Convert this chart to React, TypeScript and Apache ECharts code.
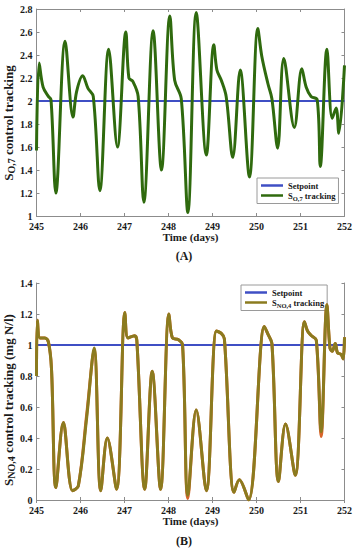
import { useEffect, useRef } from 'react';
import * as echarts from 'echarts';

// ---------- Data ----------
const xTicks = [245, 246, 247, 248, 249, 250, 251, 252];

const daysA = [
  245.0, 245.06, 245.15, 245.27, 245.33, 245.44, 245.65, 245.83, 245.91, 246.05,
  246.17, 246.29, 246.44, 246.64, 246.84, 247.03, 247.1, 247.19, 247.31, 247.44,
  247.65, 247.84, 248.03, 248.14, 248.29, 248.44, 248.63, 248.86, 249.03, 249.1,
  249.2, 249.31, 249.46, 249.63, 249.84, 250.03, 250.12, 250.26, 250.35, 250.48,
  250.62, 250.86, 251.03, 251.13, 251.24, 251.38, 251.45, 251.6, 251.72, 251.81,
  251.87, 252.0,
];
const so7Tracking = [
  1.57, 2.33, 2.12, 2.04, 2.01, 1.2, 2.52, 1.86, 2.08, 2.22,
  2.11, 2.04, 1.22, 2.45, 1.6, 2.6, 2.2, 2.17, 2.04, 1.12,
  2.61, 1.4, 2.74, 2.18, 2.02, 1.03, 2.77, 1.53, 2.49, 2.27,
  2.18, 2.04, 1.51, 2.27, 1.34, 2.63, 2.39, 2.15, 2.02, 1.59,
  2.37, 1.77, 2.28, 2.12, 2.04, 2.01, 1.43, 2.45, 1.85, 1.94,
  1.72, 2.31,
];
const so7Setpoint = 2;

const daysB = [
  245.0, 245.02, 245.08, 245.19, 245.27, 245.34, 245.44, 245.61, 245.82, 245.95,
  246.14, 246.31, 246.46, 246.61, 246.82, 247.01, 247.08, 247.23, 247.28, 247.46,
  247.63, 247.82, 248.01, 248.09, 248.22, 248.32, 248.44, 248.63, 248.86, 249.09,
  249.2, 249.27, 249.49, 249.61, 249.82, 250.18, 250.26, 250.35, 250.5, 250.66,
  250.88, 251.09, 251.16, 251.25, 251.36, 251.47, 251.6, 251.67, 251.72, 251.79,
  251.84, 251.92, 251.97, 252.0,
];
const sno4Tracking = [
  0.8, 1.16, 1.045, 1.045, 1.02, 0.85, 0.08, 0.5, 0.06, 0.09,
  0.53, 0.98, 0.06, 0.4, 0.07, 1.21, 1.045, 1.06, 1.03, 0.07,
  0.83, 0.07, 1.2, 1.045, 1.035, 1.0, 0.03, 0.58, 0.06, 1.09,
  1.075, 1.04, 0.05, 0.13, 0.0, 1.12, 1.07, 1.01, 0.12, 0.49,
  0.16, 1.15, 1.09, 1.06, 1.03, 0.44, 1.26, 0.98, 0.96, 1.01,
  0.95, 0.94, 0.91, 1.05,
];
// underlying (orange) trace, visible only where it departs from the olive one
const sno4Reference = [
  0.8, 1.16, 1.045, 1.045, 1.02, 0.85, 0.08, 0.5, 0.06, 0.09,
  0.55, 0.97, 0.06, 0.4, 0.07, 1.21, 1.045, 1.06, 1.03, 0.07,
  0.83, 0.07, 1.2, 1.045, 1.035, 1.0, 0.01, 0.58, 0.06, 1.09,
  1.075, 1.04, 0.05, 0.13, 0.0, 1.12, 1.07, 1.01, 0.12, 0.49,
  0.16, 1.15, 1.09, 1.06, 1.03, 0.41, 1.26, 0.98, 0.96, 1.01,
  0.95, 0.94, 0.91, 1.05,
];
const sno4Setpoint = 1;

const yTicksA = { min: 1, max: 2.8, interval: 0.2 };
const yTicksB = { min: 0, max: 1.4, interval: 0.2 };

// ---------- Styling ----------
const FONT = 'Liberation Serif';
const AXIS_GRAY = '#8c8c8c';
const BLUE = '#3f4fc4';
const GREEN = '#2f6a0e';
const OLIVE = '#8b7b1f';
const ORANGE = '#d8642a';

const zip = (xs: number[], ys: number[]) => xs.map((x, i) => [x, ys[i]]);

export default function App() {
  const ref = useRef<HTMLDivElement>(null);

  useEffect(() => {
    if (!ref.current) return;
    const chart = echarts.init(ref.current, undefined, { renderer: 'svg' });

    const tickLabel = {
      fontFamily: FONT,
      fontWeight: 'bold' as const,
      fontSize: 10,
      color: '#1a1a1a',
    };
    const axisLine = { show: true, lineStyle: { color: AXIS_GRAY, width: 1 } };
    const axisTick = { show: true, inside: true, length: 3, lineStyle: { color: AXIS_GRAY } };

    const grids = [
      { left: 36.5, top: 9, width: 308, height: 207 },
      { left: 36.5, top: 283, width: 308, height: 217 },
    ];

    const xCommon = {
      type: 'value' as const,
      min: xTicks[0],
      max: xTicks[xTicks.length - 1],
      interval: 1,
      splitLine: { show: false },
      axisLine,
      axisTick,
    };

    const xAxes = [0, 1].flatMap((g) => [
      {
        ...xCommon,
        gridIndex: g,
        position: 'bottom',
        axisLabel: { ...tickLabel, margin: 5 },
        name: 'Time (days)',
        nameLocation: 'middle',
        nameGap: g === 0 ? 15 : 15,
        nameTextStyle: { fontFamily: FONT, fontWeight: 'bold', fontSize: 11, color: '#1a1a1a' },
      },
      {
        ...xCommon,
        gridIndex: g,
        position: 'top',
        axisLabel: { show: false },
      },
    ]);

    const yAxes = [yTicksA, yTicksB].flatMap((t, g) => [
      {
        type: 'value' as const,
        gridIndex: g,
        position: 'left',
        min: t.min,
        max: t.max,
        interval: t.interval,
        splitLine: { show: false },
        axisLine,
        axisTick,
        axisLabel: { ...tickLabel, margin: 4 },
      },
      {
        type: 'value' as const,
        gridIndex: g,
        position: 'right',
        min: t.min,
        max: t.max,
        interval: t.interval,
        splitLine: { show: false },
        axisLine,
        axisTick,
        axisLabel: { show: false },
      },
    ]);

    const legendRich = {
      a: { fontFamily: FONT, fontWeight: 'bold', fontSize: 8.5, color: '#1a1a1a' },
      b: { fontFamily: FONT, fontWeight: 'bold', fontSize: 6.5, color: '#1a1a1a', padding: [5, 0, 0, 0] },
    };
    const legendFormatter = (name: string) => {
      if (name === 'SO7 tracking') return '{a|S}{b|O,7}{a| tracking}';
      if (name === 'SNO4 tracking') return '{a|S}{b|NO,4}{a| tracking}';
      return '{a|' + name + '}';
    };
    const legendCommon = {
      orient: 'vertical' as const,
      icon: 'rect',
      itemWidth: 22,
      itemHeight: 2.5,
      itemGap: 1,
      padding: [3, 3, 2, 4],
      borderColor: '#9a9a9a',
      borderWidth: 1,
      backgroundColor: '#ffffff',
      formatter: legendFormatter,
      textStyle: { rich: legendRich, padding: [0, 0, 0, 0] },
    };

    const nameRich = {
      s: { fontFamily: FONT, fontWeight: 'bold', fontSize: 13, fill: '#1a1a1a' },
      sub: { fontFamily: FONT, fontWeight: 'bold', fontSize: 10, fill: '#1a1a1a', padding: [7, 0, 0, 0] },
    };

    chart.setOption({
      animation: false,
      backgroundColor: '#ffffff',
      grid: grids,
      xAxis: xAxes,
      yAxis: yAxes,
      legend: [
        { ...legendCommon, left: 257, top: 178, data: ['Setpoint', 'SO7 tracking'] },
        { ...legendCommon, left: 241, top: 285, data: ['Setpoint', 'SNO4 tracking'] },
      ],
      series: [
        {
          name: 'Setpoint',
          type: 'line',
          xAxisIndex: 0,
          yAxisIndex: 0,
          data: [[xTicks[0], so7Setpoint], [xTicks[xTicks.length - 1], so7Setpoint]],
          symbol: 'none',
          lineStyle: { color: BLUE, width: 2 },
          itemStyle: { color: BLUE },
          z: 3,
        },
        {
          name: 'SO7 tracking',
          type: 'line',
          xAxisIndex: 0,
          yAxisIndex: 0,
          data: zip(daysA, so7Tracking),
          symbol: 'none',
          smooth: 0.35,
          lineStyle: { color: GREEN, width: 3 },
          itemStyle: { color: GREEN },
          z: 4,
        },
        {
          name: 'Setpoint',
          type: 'line',
          xAxisIndex: 2,
          yAxisIndex: 2,
          data: [[xTicks[0], sno4Setpoint], [xTicks[xTicks.length - 1], sno4Setpoint]],
          symbol: 'none',
          lineStyle: { color: BLUE, width: 2 },
          itemStyle: { color: BLUE },
          z: 3,
        },
        {
          name: 'SNO4 reference',
          type: 'line',
          xAxisIndex: 2,
          yAxisIndex: 2,
          data: zip(daysB, sno4Reference),
          symbol: 'none',
          smooth: 0.35,
          lineStyle: { color: ORANGE, width: 3 },
          itemStyle: { color: ORANGE },
          z: 4,
        },
        {
          name: 'SNO4 tracking',
          type: 'line',
          xAxisIndex: 2,
          yAxisIndex: 2,
          data: zip(daysB, sno4Tracking),
          symbol: 'none',
          smooth: 0.35,
          lineStyle: { color: OLIVE, width: 3 },
          itemStyle: { color: OLIVE },
          z: 5,
        },
      ],
      graphic: [
        {
          type: 'text',
          x: 8,
          y: 123,
          rotation: Math.PI / 2,
          style: {
            text: '{s|S}{sub|O,7}{s| control tracking}',
            rich: nameRich,
            align: 'center',
            verticalAlign: 'middle',
          },
        },
        {
          type: 'text',
          x: 8,
          y: 400,
          rotation: Math.PI / 2,
          style: {
            text: '{s|S}{sub|NO,4}{s| control tracking (mg N/l)}',
            rich: nameRich,
            align: 'center',
            verticalAlign: 'middle',
          },
        },
        {
          type: 'text',
          x: 184,
          y: 256,
          style: {
            text: '(A)',
            font: 'bold 12px "Liberation Serif"',
            fill: '#1a1a1a',
            align: 'center',
            verticalAlign: 'middle',
          },
        },
        {
          type: 'text',
          x: 184,
          y: 541,
          style: {
            text: '(B)',
            font: 'bold 12px "Liberation Serif"',
            fill: '#1a1a1a',
            align: 'center',
            verticalAlign: 'middle',
          },
        },
      ],
    });

    return () => chart.dispose();
  }, []);

  return (
    <div
      ref={ref}
      style={{ position: 'fixed', left: 0, top: 0, width: 355, height: 550, background: '#fff' }}
    />
  );
}
